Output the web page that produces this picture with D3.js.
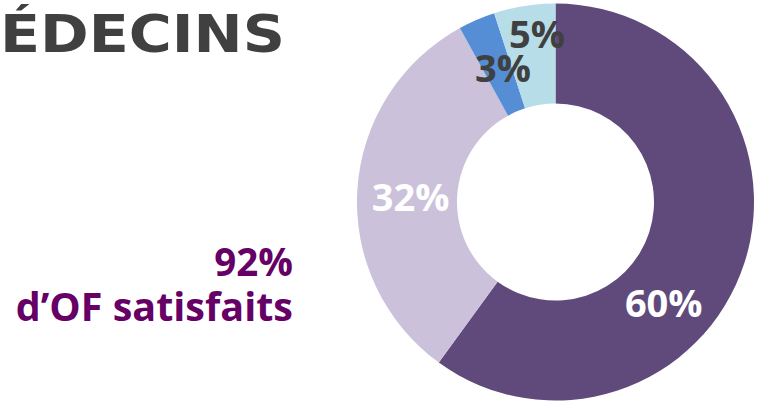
<!DOCTYPE html>
<html><head><meta charset="utf-8">
<script src="https://cdn.jsdelivr.net/npm/d3@7"></script>
<style>html,body{margin:0;padding:0;background:#fff}svg{display:block}</style>
</head><body>
<svg id="c" width="759" height="401"></svg>
<script>
// ---- data ----
const categories = ["Très satisfaits", "Satisfaits", "Peu satisfaits", "Pas satisfaits"];
const values = [60, 32, 3, 5];
const valueLabels = ["60%", "32%", "3%", "5%"];
const titleText = "ÉDECINS";
const summaryLines = ["92%", "d\u2019OF satisfaits"];

// ---- styles / layout ----
const colors = ["#5f4a7b", "#cbc1db", "#558ed5", "#b7dde8"];
const labelColors = ["#ffffff", "#ffffff", "#404040", "#404040"];
// label placement: [radius, angle in degrees clockwise from top]
const labelPlace = [[148, 133], [145, 272], [144, 338.6], [169, 353.7]];
const cx = 555.5, cy = 202, rOuter = 198.5, rInner = 98.5;

const svg = d3.select("#c");

// title (stretched horizontally to match the wide heavy face)
const titleG = svg.append("g");
const title = titleG.append("text")
  .attr("x", 0).attr("y", 52)
  .attr("font-family", "DejaVu Sans").attr("font-weight", "bold")
  .attr("font-size", 52).attr("fill", "#404040")
  .text(titleText);
const bb = title.node().getBBox();
const sx = 285 / bb.width;
titleG.attr("transform", `scale(${sx},1)`);

// summary text
const sum = svg.append("text")
  .attr("font-family", "Open Sans").attr("font-weight", "bold")
  .attr("fill", "#660066").attr("text-anchor", "end");
sum.append("tspan").attr("x", 293).attr("y", 276).attr("font-size", 38.5).text(summaryLines[0]);
sum.append("tspan").attr("x", 293).attr("y", 321).attr("font-size", 39.5).text(summaryLines[1]);

// donut
const pie = d3.pie().sort(null).value(d => d)(values);
const arc = d3.arc().innerRadius(rInner).outerRadius(rOuter);
const g = svg.append("g").attr("transform", `translate(${cx},${cy})`);
g.selectAll("path.slice").data(pie).join("path")
  .attr("class", "slice")
  .attr("d", arc)
  .attr("fill", (d, i) => colors[i]);

g.selectAll("text.lbl").data(pie).join("text")
  .attr("class", "lbl")
  .attr("x", (d, i) => labelPlace[i][0] * Math.sin(labelPlace[i][1] * Math.PI / 180))
  .attr("y", (d, i) => -labelPlace[i][0] * Math.cos(labelPlace[i][1] * Math.PI / 180))
  .attr("dy", "0.36em")
  .attr("text-anchor", "middle")
  .attr("font-family", "Open Sans").attr("font-weight", "bold")
  .attr("font-size", 38)
  .attr("fill", (d, i) => labelColors[i])
  .text((d, i) => valueLabels[i]);
</script>
</body></html>
